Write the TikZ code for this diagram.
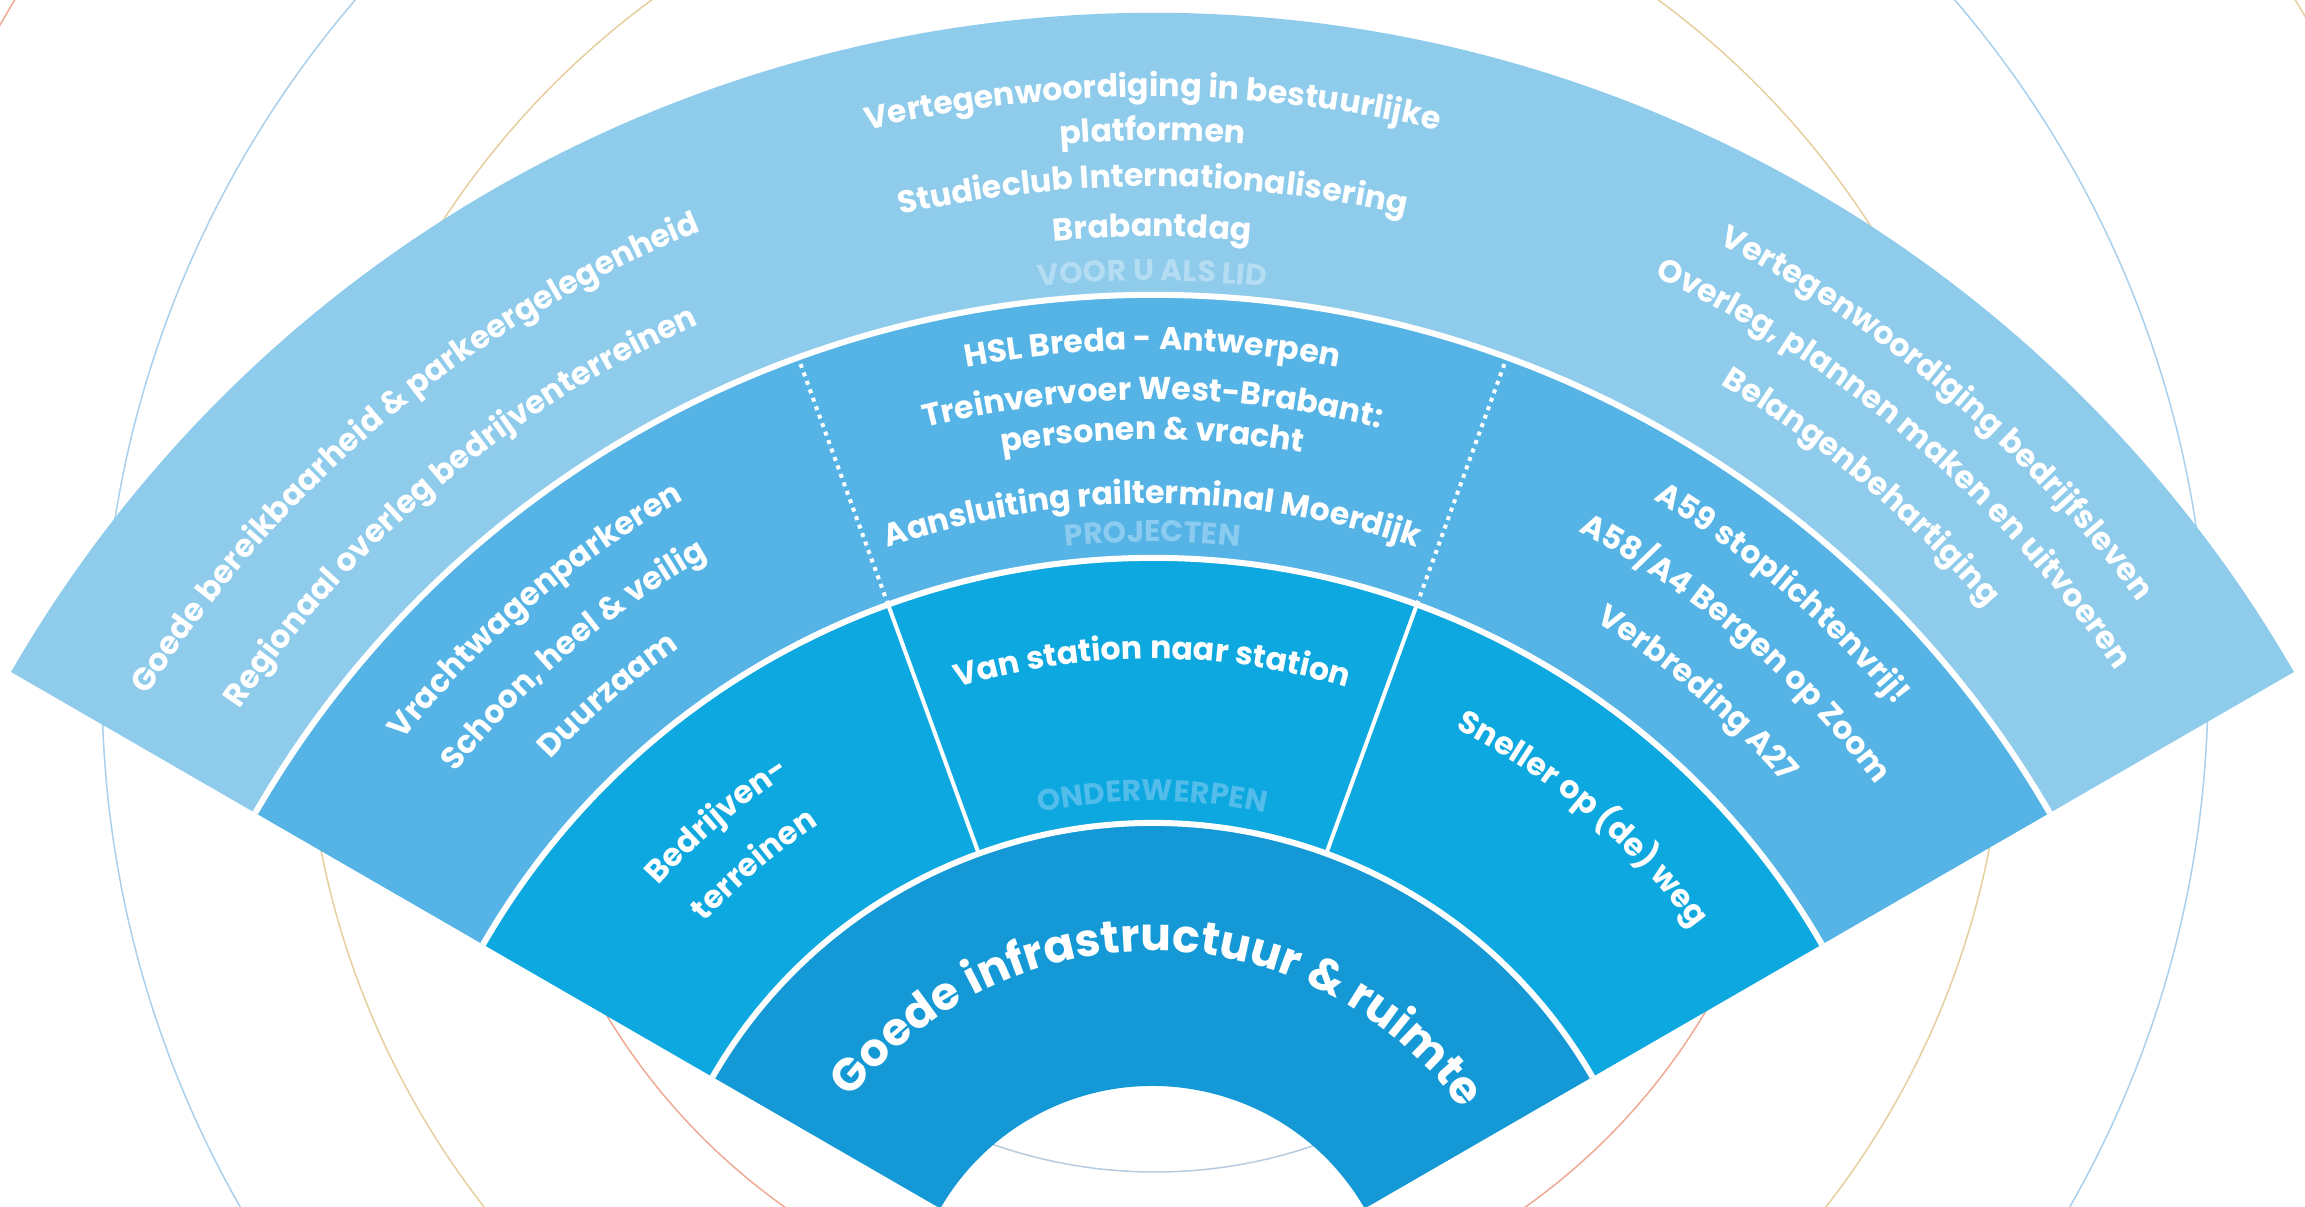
\documentclass[tikz,border=0pt]{standalone}
\usepackage{fontspec}
\setmainfont{Poppins}
\usetikzlibrary{decorations.text}

\definecolor{ringlid}{HTML}{8FCBEB}
\definecolor{ringproj}{HTML}{55B4E5}
\definecolor{ringond}{HTML}{0DA8E0}
\definecolor{ringcore}{HTML}{1499D6}
\definecolor{labellid}{HTML}{B4DCF2}
\definecolor{labelproj}{HTML}{8BCBEF}
\definecolor{labelond}{HTML}{52BCEB}
\definecolor{circblue}{HTML}{A9D0EC}
\definecolor{circsand}{HTML}{E6CF9F}
\definecolor{circred}{HTML}{EFAA94}
\definecolor{circhole}{HTML}{B5CBDF}

% text set along an arc round the centre of the fan
% [colour]{middle angle}{baseline radius}{size in pt}{text}
\newcommand{\arcline}[5][white]{%
  \path[decorate,decoration={text along path,text align=center,text color=#1,
      text={|\fontsize{#4}{#4}\selectfont\bfseries|#5}}]
    ({#2+75}:#3) arc[start angle={#2+75},end angle={#2-75},radius=#3];}

\begin{document}
\begin{tikzpicture}[x=0.2mm,y=0.2mm]
                \useasboundingbox (-1152.5,124) rectangle (1152.5,1331);
                \clip (-1152.5,124) rectangle (1152.5,1331);
                % thin circles behind the fan
                \begin{scope}[shift={(2.5,646)},line width=0.3mm]
                    \draw[circhole] (0,0) circle[radius=487];
                    \draw[circred] (0,0) circle[radius=640];
                    \draw[circsand] (0,0) circle[radius=850];
                    \draw[circblue] (0,0) circle[radius=1053];
                    \draw[circred] (90:1330) arc[start angle=90,end angle=270,radius=1330];
                    \draw[circsand] (-90:1330) arc[start angle=-90,end angle=90,radius=1330];
                \end{scope}
                % the four rings
                \fill[ringlid]
                    (150:1318) arc[start angle=150,end angle=30,radius=1318]
                    -- (30:1036) arc[start angle=30,end angle=150,radius=1036] -- cycle;
                \fill[ringproj]
                    (150:1036) arc[start angle=150,end angle=30,radius=1036]
                    -- (30:773) arc[start angle=30,end angle=150,radius=773] -- cycle;
                \fill[ringond]
                    (150:773) arc[start angle=150,end angle=30,radius=773]
                    -- (30:508) arc[start angle=30,end angle=150,radius=508] -- cycle;
                \fill[ringcore]
                    (150:508) arc[start angle=150,end angle=30,radius=508]
                    -- (30:245) arc[start angle=30,end angle=150,radius=245] -- cycle;
                % white borders
                \draw[white,line width=1.2mm]
                    (150:1036) arc[start angle=150,end angle=30,radius=1036];
                \draw[white,line width=1.2mm]
                    (150:773) arc[start angle=150,end angle=30,radius=773];
                \draw[white,line width=1.2mm]
                    (150:508) arc[start angle=150,end angle=30,radius=508];
                \draw[white,line width=0.8mm]
                    (110:508) -- (110:773);
                \draw[white,line width=0.8mm]
                    (70:508) -- (70:773);
                \draw[white,line width=0.8mm,dash pattern=on 0.8mm off 1mm]
                    (110:773) -- (110:1036);
                \draw[white,line width=0.8mm,dash pattern=on 0.8mm off 1mm]
                    (70:773) -- (70:1036);
                % voor u als lid
                \arcline{90}{1234}{18}{Vertegenwoordiging in bestuurlijke}
                \arcline{90}{1190}{18}{platformen}
                \arcline{90}{1144}{18}{Studieclub Internationalisering}
                \arcline{90}{1094}{18}{Brabantdag}
                \arcline[labellid]{90}{1050}{17}{VOOR U ALS LID}
                \arcline{130}{1189}{18}{Goede bereikbaarheid {\&} parkeergelegenheid}
                \arcline{130}{1104}{18}{Regionaal overleg bedrijventerreinen}
                \arcline{49.5}{1226}{18}{Vertegenwoordiging bedrijfsleven}
                \arcline{49.5}{1168}{18}{Overleg, plannen maken en uitvoeren}
                \arcline{50}{1104}{18}{Belangenbehartiging}
                % projecten
                \arcline{90}{981}{18}{HSL Breda - Antwerpen}
                \arcline{90}{931}{18}{Treinvervoer West-Brabant:}
                \arcline{90}{891}{18}{personen {\&} vracht}
                \arcline{90}{827}{18}{Aansluiting railterminal Moerdijk}
                \arcline[labelproj]{90}{789}{17}{PROJECTEN}
                \arcline{130.6}{954}{18}{Vrachtwagenparkeren}
                \arcline{130.6}{893}{18}{Schoon, heel {\&} veilig}
                \arcline{130.6}{830}{18}{Duurzaam}
                \arcline{49.5}{971}{18}{A59 stoplichtenvrij!}
                \arcline{49.5}{906}{18}{A58/A4 Bergen op Zoom}
                \arcline{49.5}{836}{18}{Verbreding A27}
                % onderwerpen
                \arcline{90}{672}{18}{Van station naar station}
                \arcline[labelond]{90}{530}{17}{ONDERWERPEN}
                \arcline{130.5}{665}{18}{Bedrijven-}
                \arcline{130.5}{606}{18}{terreinen}
                \arcline{50}{674}{18}{Sneller op (de) weg}
                % kern
                \arcline{89}{380}{26}{Goede infrastructuur {\&} ruimte}
            \end{tikzpicture}
\end{document}
